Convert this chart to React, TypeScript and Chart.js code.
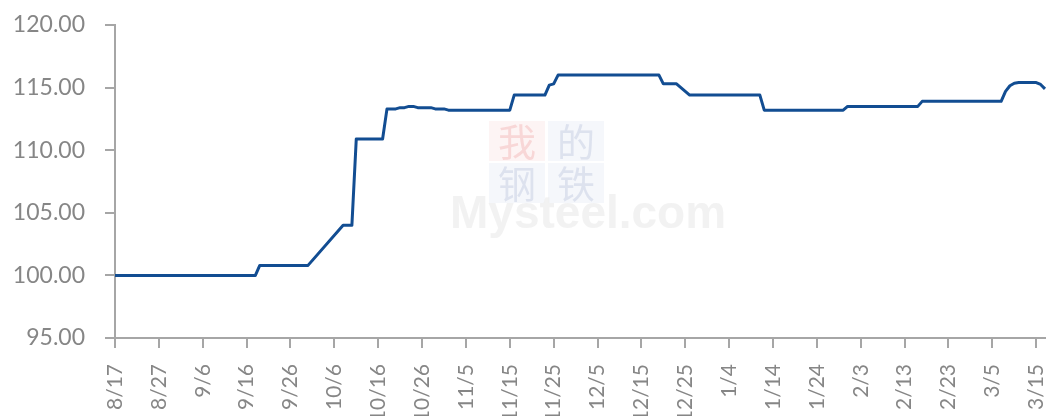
import React, { useEffect, useRef } from "react";
import { Chart, registerables } from "chart.js";

Chart.register(...registerables);

// Daily categories from 8/17 to 3/17 (213 days)
const startYear = 2022;
const dayCount = 213;
const dates: string[] = [];
for (let i = 0; i < dayCount; i++) {
  const d = new Date(startYear, 7, 17 + i);
  dates.push(`${d.getMonth() + 1}/${d.getDate()}`);
}

const tickLabels = [
  "8/17", "8/27", "9/6", "9/16", "9/26", "10/6", "10/16", "10/26", "11/5", "11/15", "11/25",
  "12/5", "12/15", "12/25", "1/4", "1/14", "1/24", "2/3", "2/13", "2/23", "3/5", "3/15",
];

const yTicks = [95, 100, 105, 110, 115, 120];

const values: (number | null)[] = [
  // 8/17 - 9/18
  100, 100, 100, 100, 100, 100, 100, 100, 100, 100,
  100, 100, 100, 100, 100, 100, 100, 100, 100, 100,
  100, 100, 100, 100, 100, 100, 100, 100, 100, 100,
  100, 100, 100,
  // 9/19 - 9/30
  100.8, 100.8, 100.8, 100.8, 100.8, 100.8, 100.8, 100.8, 100.8, 100.8, 100.8, 100.8,
  // 10/1 - 10/7 holiday
  null, null, null, null, null, null, null,
  // 10/8 - 10/10
  104, 104, 104,
  // 10/11 - 10/17
  110.9, 110.9, 110.9, 110.9, 110.9, 110.9, 110.9,
  // 10/18 - 10/31
  113.3, 113.3, 113.3, 113.4, 113.4, 113.5, 113.5, 113.4, 113.4, 113.4, 113.4, 113.3, 113.3, 113.3,
  // 11/1 - 11/15
  113.2, 113.2, 113.2, 113.2, 113.2, 113.2, 113.2, 113.2, 113.2, 113.2,
  113.2, 113.2, 113.2, 113.2, 113.2,
  // 11/16 - 11/23
  114.4, 114.4, 114.4, 114.4, 114.4, 114.4, 114.4, 114.4,
  // 11/24 - 11/25
  115.2, 115.3,
  // 11/26 - 12/19
  116, 116, 116, 116, 116, 116, 116, 116, 116, 116,
  116, 116, 116, 116, 116, 116, 116, 116, 116, 116,
  116, 116, 116, 116,
  // 12/20 - 12/23
  115.3, 115.3, 115.3, 115.3,
  // 12/24 - 12/25
  null, null,
  // 12/26 - 1/11
  114.4, 114.4, 114.4, 114.4, 114.4, 114.4, 114.4, 114.4, 114.4, 114.4,
  114.4, 114.4, 114.4, 114.4, 114.4, 114.4, 114.4,
  // 1/12 - 1/30
  113.2, 113.2, 113.2, 113.2, 113.2, 113.2, 113.2, 113.2, 113.2, 113.2,
  113.2, 113.2, 113.2, 113.2, 113.2, 113.2, 113.2, 113.2, 113.2,
  // 1/31 - 2/16
  113.5, 113.5, 113.5, 113.5, 113.5, 113.5, 113.5, 113.5, 113.5, 113.5,
  113.5, 113.5, 113.5, 113.5, 113.5, 113.5, 113.5,
  // 2/17 - 3/7
  113.9, 113.9, 113.9, 113.9, 113.9, 113.9, 113.9, 113.9, 113.9, 113.9,
  113.9, 113.9, 113.9, 113.9, 113.9, 113.9, 113.9, 113.9, 113.9,
  // 3/8 - 3/17
  114.7, 115.15, 115.35, 115.4, 115.4, 115.4, 115.4, 115.4, 115.25, 114.9,
];

const watermarkPlugin = {
  id: "watermark",
  beforeDatasetsDraw(chart: any) {
    const ctx = chart.ctx as CanvasRenderingContext2D;
    ctx.save();
    const boxes = [
      { x: 489, y: 121, bg: "rgba(252,236,236,0.6)", fg: "rgba(245,195,195,0.6)", t: "我" },
      { x: 548, y: 121, bg: "rgba(238,241,248,0.6)", fg: "rgba(205,212,230,0.6)", t: "的" },
      { x: 489, y: 163, bg: "rgba(238,241,248,0.6)", fg: "rgba(205,212,230,0.6)", t: "钢" },
      { x: 548, y: 163, bg: "rgba(238,241,248,0.6)", fg: "rgba(205,212,230,0.6)", t: "铁" },
    ];
    ctx.textAlign = "center";
    ctx.textBaseline = "middle";
    ctx.font = "38px 'Noto Sans CJK SC'";
    for (const b of boxes) {
      ctx.fillStyle = b.bg;
      ctx.fillRect(b.x, b.y, 56, 40);
      ctx.fillStyle = b.fg;
      ctx.fillText(b.t, b.x + 28, b.y + 21);
    }
    ctx.fillStyle = "rgba(240,240,240,0.85)";
    ctx.font = "bold 46px 'Liberation Sans'";
    ctx.textAlign = "left";
    ctx.textBaseline = "alphabetic";
    ctx.fillText("Mysteel.com", 450, 228);
    ctx.restore();
  },
};

export default function App() {
  const canvasRef = useRef<HTMLCanvasElement | null>(null);

  useEffect(() => {
    document.body.style.margin = "0";
    const canvas = canvasRef.current;
    if (!canvas) return;
    const axisColor = "#a6a6a6";
    const textColor = "#868686";
    const chart = new Chart(canvas, {
      type: "line",
      data: {
        labels: dates,
        datasets: [
          {
            data: values,
            borderColor: "#124d92",
            borderWidth: 3,
            pointRadius: 0,
            pointHoverRadius: 0,
            fill: false,
            spanGaps: true,
            tension: 0,
            borderJoinStyle: "round",
          },
        ],
      },
      options: {
        responsive: false,
        animation: false,
        events: [],
        layout: { padding: { top: 25, right: 4, left: 0, bottom: 0 } },
        plugins: {
          legend: { display: false },
          tooltip: { enabled: false },
        },
        scales: {
          x: {
            type: "category",
            offset: false,
            grid: {
              display: true,
              drawOnChartArea: false,
              drawTicks: true,
              tickLength: 10,
              color: axisColor,
              lineWidth: 2,
            },
            border: { display: true, color: axisColor, width: 2 },
            ticks: {
              autoSkip: false,
              minRotation: 90,
              maxRotation: 90,
              padding: 16,
              color: textColor,
              font: { family: "Lato", size: 21 },
              callback: (_v: any, idx: number) =>
                tickLabels.includes(dates[idx]) ? dates[idx] : null,
            },
            afterFit: (scale: any) => {
              scale.height = 78;
              scale.paddingRight = 0;
              scale.paddingLeft = 0;
            },
          },
          y: {
            min: yTicks[0],
            max: yTicks[yTicks.length - 1],
            afterBuildTicks: (scale: any) => {
              scale.ticks = yTicks.map((v) => ({ value: v }));
            },
            grid: {
              display: true,
              drawOnChartArea: false,
              drawTicks: true,
              tickLength: 10,
              color: axisColor,
              lineWidth: 2,
            },
            border: { display: true, color: axisColor, width: 2 },
            ticks: {
              padding: 20,
              color: textColor,
              font: { family: "Lato", size: 23 },
              callback: (v: any) => Number(v).toFixed(2),
            },
            afterFit: (scale: any) => {
              scale.width = 115;
              scale.paddingTop = 0;
              scale.paddingBottom = 0;
            },
          },
        },
      },
      plugins: [watermarkPlugin],
    });
    return () => chart.destroy();
  }, []);

  return (
    <div style={{ position: "relative", width: 1049, height: 416 }}>
      <canvas ref={canvasRef} width={1049} height={416} style={{ display: "block" }} />
    </div>
  );
}
